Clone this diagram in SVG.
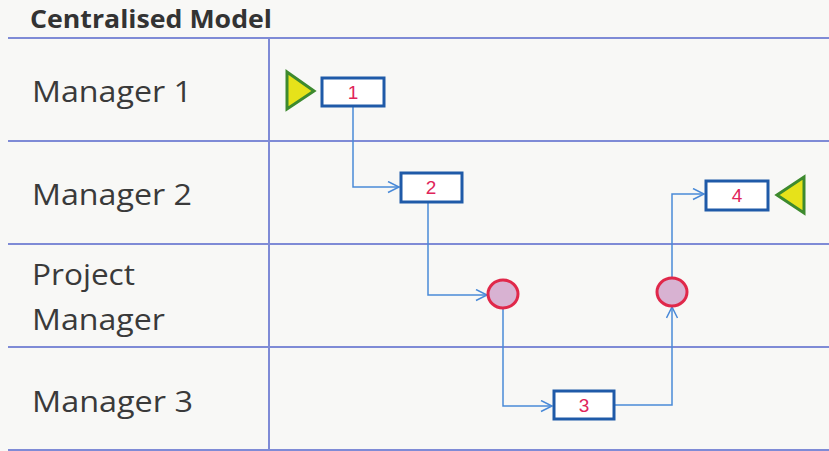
<svg xmlns="http://www.w3.org/2000/svg" width="829" height="451" viewBox="0 0 829 451">
<defs>
<style>
.grid{stroke:#7f8bd6;stroke-width:2;fill:none}
.lbl{font-family:"Open Sans","Liberation Sans",sans-serif;font-size:30px;fill:#3a3a3a}
.title{font-family:"Open Sans","Liberation Sans",sans-serif;font-size:25px;font-weight:bold;fill:#333}
.box{fill:#ffffff;stroke:#1f5aa8;stroke-width:3}
.num{font-family:"Liberation Sans",Arial,sans-serif;font-size:19px;fill:#e0245a;text-anchor:middle}
.tri{fill:#e6e21a;stroke:#3d8a2e;stroke-width:3;stroke-linejoin:miter}
.evt{fill:#d8b2d2;stroke:#e0284a;stroke-width:3}
.con{fill:none;stroke:#4a8ad8;stroke-width:1.5}
</style>
<marker id="arr" markerUnits="userSpaceOnUse" markerWidth="14" markerHeight="14" refX="12" refY="6" orient="auto">
<path d="M1,0.5 L12,6 L1,11.5" fill="none" stroke="#4a8ad8" stroke-width="1.5"/>
</marker>
</defs>
<rect width="829" height="451" fill="#f8f8f6"/>
<g id="lanes">
<text class="title" x="30" y="28" textLength="242" lengthAdjust="spacingAndGlyphs">Centralised Model</text>
<line class="grid" x1="8" y1="38" x2="829" y2="38"/>
<line class="grid" x1="8" y1="141" x2="829" y2="141"/>
<line class="grid" x1="8" y1="244" x2="829" y2="244"/>
<line class="grid" x1="8" y1="347" x2="829" y2="347"/>
<line class="grid" x1="8" y1="450" x2="829" y2="450"/>
<line class="grid" x1="269" y1="38" x2="269" y2="451"/>
<text class="lbl" x="32" y="102" textLength="160" lengthAdjust="spacingAndGlyphs">Manager 1</text>
<text class="lbl" x="32" y="205" textLength="160" lengthAdjust="spacingAndGlyphs">Manager 2</text>
<text class="lbl" x="32" y="285" textLength="103" lengthAdjust="spacingAndGlyphs">Project</text>
<text class="lbl" x="32" y="330" textLength="133" lengthAdjust="spacingAndGlyphs">Manager</text>
<text class="lbl" x="32" y="412" textLength="161" lengthAdjust="spacingAndGlyphs">Manager 3</text>
</g>
<g id="connectors">
<path class="con" d="M353,107 V187 H399" marker-end="url(#arr)"/>
<path class="con" d="M428,203 V295 H487" marker-end="url(#arr)"/>
<path class="con" d="M503,308 V406 H552" marker-end="url(#arr)"/>
<path class="con" d="M614,405 H672 V307" marker-end="url(#arr)"/>
<path class="con" d="M672,278 V194 H704" marker-end="url(#arr)"/>
</g>
<g id="start"><polygon class="tri" points="287,72 314,91 287,109"/></g>
<g id="task1"><rect class="box" x="322" y="78" width="62" height="28"/><text class="num" x="353" y="99">1</text></g>
<g id="task2"><rect class="box" x="401" y="173" width="61" height="29"/><text class="num" x="431" y="194">2</text></g>
<g id="event1"><ellipse class="evt" cx="503" cy="294" rx="15" ry="14"/></g>
<g id="task3"><rect class="box" x="554" y="391" width="60" height="28"/><text class="num" x="584" y="412">3</text></g>
<g id="event2"><ellipse class="evt" cx="672" cy="292" rx="15" ry="14"/></g>
<g id="task4"><rect class="box" x="706" y="181" width="62" height="29"/><text class="num" x="737" y="202">4</text></g>
<g id="end"><polygon class="tri" points="777,195 804,177 804,213"/></g>
</svg>
